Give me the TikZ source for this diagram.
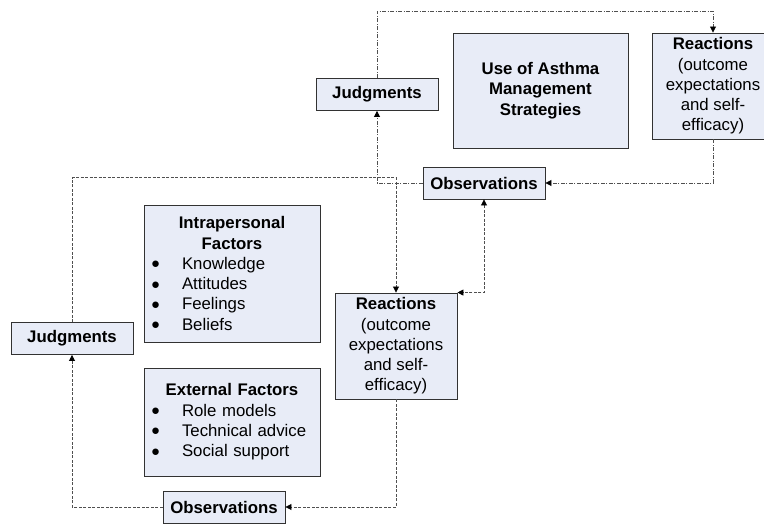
\documentclass[tikz,border=0pt]{standalone}
\usepackage{fontspec}
\setmainfont{Liberation Sans}
\usetikzlibrary{arrows.meta}
\definecolor{boxfill}{RGB}{232,236,247}
\definecolor{boxline}{RGB}{50,50,50}
\definecolor{linkgray}{RGB}{80,80,80}
\newcommand{\boxfont}{\fontsize{16.8}{20.3}\selectfont}
\newcommand{\fitem}[1]{\makebox[168pt][l]{\makebox[34pt][l]{\hspace*{3pt}\raisebox{0.5pt}{\fontsize{15}{16}\selectfont ●}}#1}}
\tikzstyle{box}=[draw=boxline,fill=boxfill,line width=0.9pt,inner sep=0pt,align=center,font=\boxfont]
\tikzstyle{smallbox}=[box,minimum width=122pt,minimum height=32pt,font=\boxfont\bfseries]
\tikzstyle{reactbox}=[box,minimum width=122pt,minimum height=106pt]
\tikzstyle{factorbox}=[box,text width=168pt,inner xsep=4pt]
\tikzstyle{tip}=[-{Triangle[length=6pt,width=6pt,color=black]}]
\tikzstyle{dashdotlink}=[draw=linkgray,line width=0.8pt,dash pattern=on 4pt off 1.5pt on 1pt off 1.5pt,tip]
\tikzstyle{dashlink}=[draw=linkgray,line width=0.8pt,dash pattern=on 3pt off 1.5pt,tip]
\begin{document}
\begin{tikzpicture}[x=1pt,y=-1pt]
  \useasboundingbox (0,0) rectangle (764,524);

    \foreach \pos/ \name / \label in {{(377,94.5)/judgA/Judgments},{(484,183)/obsA/Observations},{(72,338.5)/judgB/Judgments},{(224,507)/obsB/Observations}}
        \node[smallbox] (\name) at \pos {\label};

    \foreach \pos/ \name in {{(713,86)/reactA},{(396,346)/reactB}}
        \node[reactbox] (\name) at \pos {\textbf{Reactions}\\(outcome\\expectations\\and self-\\efficacy)};

    \node[box,minimum width=175pt,minimum height=115pt,font=\boxfont\bfseries] (use) at (540.5,90.5) {Use of Asthma\\Management\\Strategies};

    \node[factorbox,minimum height=137pt] (intra) at (232,273.5) {\textbf{Intrapersonal}\\\textbf{Factors}\\\fitem{Knowledge}\\\fitem{Attitudes}\\\fitem{Feelings}\\\fitem{Beliefs}};
    \node[factorbox,minimum height=108pt] (extern) at (232,422) {\textbf{External Factors}\\\fitem{Role models}\\\fitem{Technical advice}\\\fitem{Social support}};

    % upper loop
    \draw[dashdotlink] (judgA.north) -- ++(0,-67) -| (reactA.north);
    \draw[dashdotlink] (reactA.south) |- (obsA.east);
    \draw[dashdotlink] (obsA.west) -| (judgA.south);

    % lower loop
    \draw[dashlink] (judgB.north) -- ++(0,-144.5) -| (reactB.north);
    \draw[dashlink] (reactB.south) |- (obsB.east);
    \draw[dashlink] (obsB.west) -| (judgB.south);

    \draw[dashlink,{Triangle[length=6pt,width=6pt,color=black]}-{Triangle[length=6pt,width=6pt,color=black]}] (obsA.south) |- (reactB.north east);
\end{tikzpicture}
\end{document}
